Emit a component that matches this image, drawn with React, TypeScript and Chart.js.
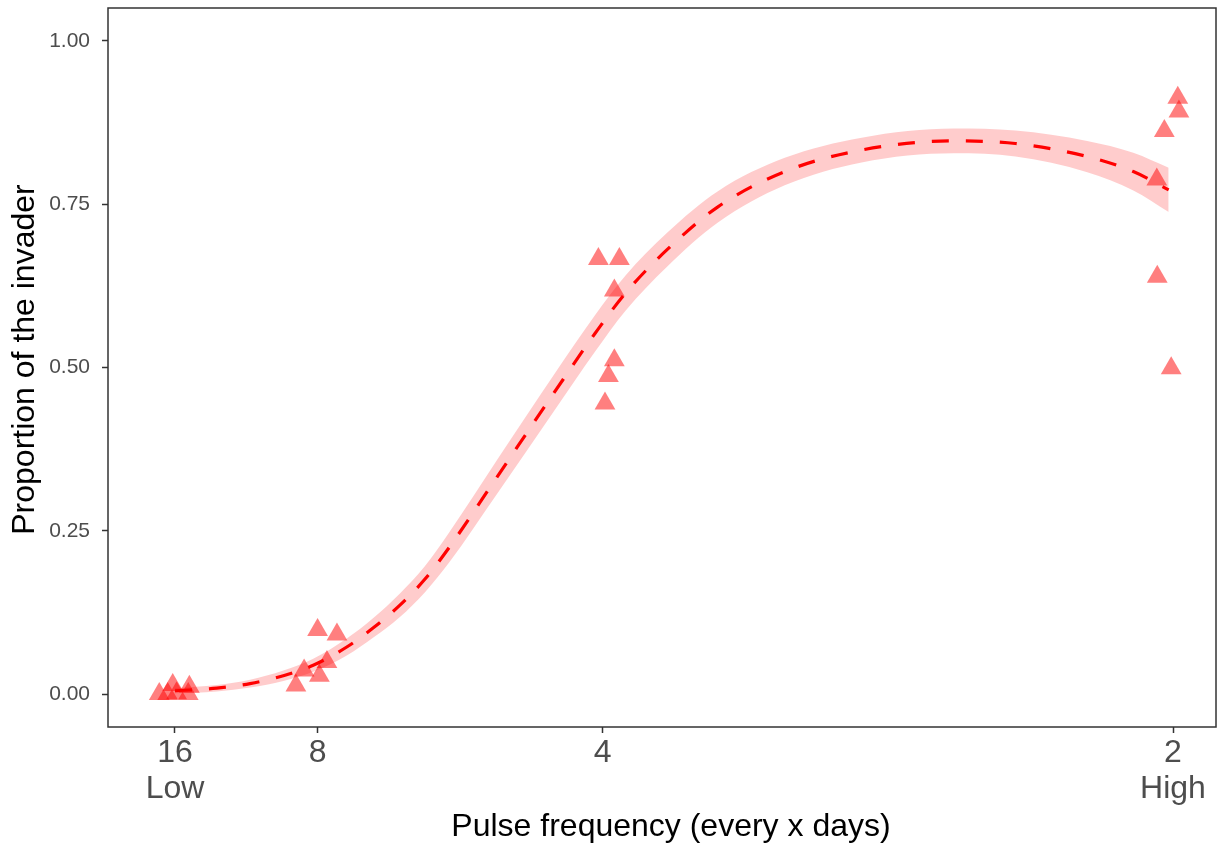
import React, { useEffect, useRef } from "react";
import { Chart, registerables } from "chart.js";

Chart.register(...registerables);

// Axis ticks (x is pulse frequency = 1 / days)
const xTickValues = [1 / 16, 1 / 8, 1 / 4, 1 / 2];
const xTickLabels = [["16", "Low"], ["8"], ["4"], ["2", "High"]];
const yTickValues = [0, 0.25, 0.5, 0.75, 1];
const yTickLabels = ["0.00", "0.25", "0.50", "0.75", "1.00"];
const xTitle = "Pulse frequency (every x days)";
const yTitle = "Proportion of the invader";

// Observed (jittered) points
const pointFreq = [
  0.0556, 0.0593, 0.0615, 0.0632, 0.0683, 0.0688,
  0.1250, 0.1335, 0.1291, 0.1191, 0.1258, 0.1155,
  0.2481, 0.2573, 0.2551, 0.2551, 0.2525, 0.2510,
  0.5021, 0.5026, 0.4962, 0.4929, 0.4931, 0.4992,
];
const pointProp = [
  0.000, 0.000, 0.014, 0.001, 0.000, 0.011,
  0.098, 0.091, 0.049, 0.036, 0.028, 0.013,
  0.666, 0.666, 0.618, 0.511, 0.487, 0.445,
  0.913, 0.892, 0.862, 0.788, 0.639, 0.499,
];

// Fitted curve and confidence band
const fitFreq = [
  0.0625, 0.0808, 0.0954, 0.1100, 0.1231, 0.1378, 0.1493, 0.1611, 0.1721,
  0.1826, 0.2038, 0.2286, 0.2466, 0.2600, 0.2781, 0.3005, 0.3298, 0.3635,
  0.4039, 0.4309, 0.4624, 0.4826, 0.4981,
];
const fitProp = [
  0.005, 0.009, 0.016, 0.028, 0.044, 0.072, 0.101, 0.136, 0.176,
  0.224, 0.333, 0.461, 0.552, 0.614, 0.680, 0.746, 0.800, 0.833,
  0.847, 0.843, 0.823, 0.800, 0.772,
];
const ciLow = [
  0.001, 0.004, 0.010, 0.020, 0.034, 0.059, 0.086, 0.118, 0.156,
  0.201, 0.307, 0.433, 0.524, 0.587, 0.654, 0.722, 0.779, 0.814,
  0.828, 0.823, 0.799, 0.771, 0.738,
];
const ciHigh = [
  0.009, 0.014, 0.022, 0.036, 0.054, 0.085, 0.116, 0.154, 0.196,
  0.247, 0.359, 0.489, 0.580, 0.641, 0.706, 0.770, 0.821, 0.852,
  0.866, 0.863, 0.847, 0.829, 0.806,
];

const FONT = "'Liberation Sans', Arial, Helvetica, sans-serif";

const panelBorder = {
  id: "panelBorder",
  afterDatasetsDraw(chart: any) {
    const { ctx, chartArea } = chart;
    const { left, top, right, bottom } = chartArea;
    ctx.save();
    ctx.strokeStyle = "#333333";
    ctx.lineWidth = 1.5;
    ctx.strokeRect(left, top, right - left, bottom - top);
    ctx.restore();
  },
};

// Axis titles, placed like the ggplot original
const axisTitles = {
  id: "axisTitles",
  afterDraw(chart: any) {
    const { ctx, chartArea } = chart;
    ctx.save();
    ctx.fillStyle = "#000000";
    ctx.font = `32px ${FONT}`;
    ctx.textAlign = "center";
    ctx.textBaseline = "middle";
    ctx.fillText(xTitle, (chartArea.left + chartArea.right) / 2 + 9, 827);
    ctx.translate(25, (chartArea.top + chartArea.bottom) / 2 - 8);
    ctx.rotate(-Math.PI / 2);
    ctx.fillText(yTitle, 0, 0);
    ctx.restore();
  },
};

const noEdgePadding = (scale: any) => {
  scale.paddingTop = 0;
  scale.paddingBottom = 0;
  scale.paddingLeft = 0;
  scale.paddingRight = 0;
};

export default function App() {
  const canvasRef = useRef<HTMLCanvasElement | null>(null);

  useEffect(() => {
    document.body.style.margin = "0";
    const canvas = canvasRef.current;
    if (!canvas) return;

    const points = pointFreq.map((x, i) => ({ x, y: pointProp[i] }));
    const fit = fitFreq.map((x, i) => ({ x, y: fitProp[i] }));
    const lo = fitFreq.map((x, i) => ({ x, y: ciLow[i] }));
    const hi = fitFreq.map((x, i) => ({ x, y: ciHigh[i] }));

    const chart = new Chart(canvas, {
      type: "line",
      data: {
        datasets: [
          {
            type: "scatter",
            label: "observed",
            data: points,
            pointStyle: "triangle",
            pointRadius: 12,
            pointHoverRadius: 12,
            pointBorderWidth: 0,
            backgroundColor: "rgba(255,0,0,0.5)",
            borderColor: "rgba(255,0,0,0)",
            order: 0,
          } as any,
          {
            label: "fit",
            data: fit,
            borderColor: "#FF0000",
            borderWidth: 3.2,
            borderDash: [17, 17],
            borderCapStyle: "butt",
            pointRadius: 0,
            fill: false,
            cubicInterpolationMode: "monotone",
            order: 1,
          },
          {
            label: "ciHigh",
            data: hi,
            borderWidth: 0,
            borderColor: "rgba(0,0,0,0)",
            backgroundColor: "rgba(255,0,0,0.2)",
            pointRadius: 0,
            fill: "+1",
            cubicInterpolationMode: "monotone",
            order: 2,
          },
          {
            label: "ciLow",
            data: lo,
            borderWidth: 0,
            borderColor: "rgba(0,0,0,0)",
            pointRadius: 0,
            fill: false,
            cubicInterpolationMode: "monotone",
            order: 3,
          },
        ],
      },
      options: {
        animation: false,
        responsive: true,
        maintainAspectRatio: false,
        layout: { autoPadding: false, padding: { top: 8, right: 7, left: 0, bottom: 0 } },
        plugins: {
          legend: { display: false },
          tooltip: { enabled: false },
        },
        scales: {
          x: {
            type: "linear",
            min: 0.03313,
            max: 0.51885,
            afterBuildTicks: (scale: any) => {
              scale.ticks = xTickValues.map((v) => ({ value: v }));
            },
            afterFit: (scale: any) => {
              scale.height = 117;
              noEdgePadding(scale);
            },
            border: { display: false },
            grid: {
              drawOnChartArea: false,
              drawTicks: true,
              tickLength: 6,
              tickColor: "#333333",
              tickWidth: 1.5,
            },
            ticks: {
              autoSkip: false,
              maxRotation: 0,
              padding: 3,
              color: "#4D4D4D",
              font: { family: FONT, size: 32, lineHeight: 1.1 },
              callback: (_v: any, i: number) => xTickLabels[i],
            },
            title: { display: false },
          },
          y: {
            type: "linear",
            min: -0.0505,
            max: 1.0505,
            afterBuildTicks: (scale: any) => {
              scale.ticks = yTickValues.map((v) => ({ value: v }));
            },
            afterFit: (scale: any) => {
              scale.width = 108;
              noEdgePadding(scale);
            },
            border: { display: false },
            grid: {
              drawOnChartArea: false,
              drawTicks: true,
              tickLength: 6,
              tickColor: "#333333",
              tickWidth: 1.5,
            },
            ticks: {
              autoSkip: false,
              padding: 12,
              color: "#4D4D4D",
              font: { family: FONT, size: 21 },
              callback: (_v: any, i: number) => yTickLabels[i],
            },
            title: { display: false },
          },
        },
      } as any,
      plugins: [panelBorder, axisTitles],
    });

    return () => chart.destroy();
  }, []);

  return (
    <div style={{ width: "1223px", height: "844px", position: "relative", overflow: "hidden" }}>
      <canvas ref={canvasRef} />
    </div>
  );
}
